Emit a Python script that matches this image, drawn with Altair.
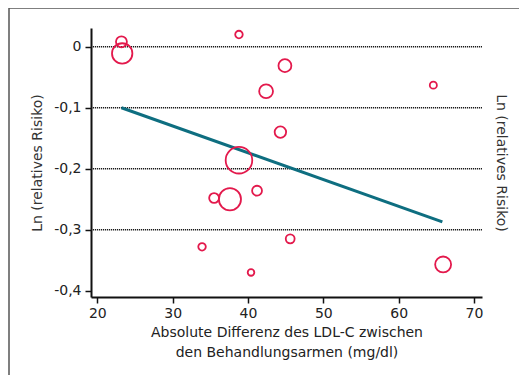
import altair as alt
import pandas as pd

# Study data: absolute LDL-C difference (mg/dl), ln(relative risk), study weight
ldl_diff = [23.2, 23.3, 38.8, 44.9, 42.4, 64.6, 44.3, 38.8, 41.2, 35.5, 37.6, 33.9, 40.4, 45.6, 65.9]
ln_rr = [0.008, -0.011, 0.020, -0.031, -0.073, -0.063, -0.140, -0.186, -0.236, -0.248, -0.250, -0.328, -0.370, -0.315, -0.357]
weight = [38, 132, 18, 53, 61, 16, 42, 225, 31, 31, 156, 18, 14, 25, 81]

# Meta-regression line endpoints
reg_x = [23.2, 65.8]
reg_y = [-0.100, -0.287]

x_ticks = [20, 30, 40, 50, 60, 70]
y_ticks = [0, -0.1, -0.2, -0.3, -0.4]
grid_vals = [0, -0.1, -0.2, -0.3]

x_title = ["Absolute Differenz des LDL-C zwischen", "den Behandlungsarmen (mg/dl)"]
y_title = "Ln (relatives Risiko)"

FONT = "DejaVu Sans"
FS = 14
W, H = 391, 269
x_dom = [19.16, 71.06]
y_dom = [-0.4103, 0.0307]

pts = pd.DataFrame({"x": ldl_diff, "y": ln_rr, "w": weight})
reg = pd.DataFrame({"x": reg_x, "y": reg_y})
grid = pd.DataFrame({"y": grid_vals})

xscale = alt.Scale(domain=x_dom, nice=False, zero=False)
yscale = alt.Scale(domain=y_dom, nice=False, zero=False)

x_axis = alt.Axis(
    values=x_ticks, grid=False, domainColor="#111111", domainWidth=2,
    tickColor="#111111", tickWidth=1.5, tickSize=6,
    labelFontSize=FS, labelFont=FONT, labelColor="#222222", labelPadding=3,
    title=x_title, titleFontSize=FS, titleFontWeight="normal", titleFont=FONT,
    titleColor="#222222", titlePadding=5, titleLineHeight=20,
)

frame = alt.Chart(pd.DataFrame({"a": [0]})).mark_rect(
    fill=None, stroke="#555555", strokeWidth=1.5
).encode(
    x=alt.value(-82), y=alt.value(-20), x2=alt.value(W + 60), y2=alt.value(H + 120)
)

grid_layer = alt.Chart(grid).mark_rule(
    color="#1a1a1a", strokeWidth=1.5, strokeDash=[1.2, 0.8]
).encode(
    y=alt.Y("y:Q", scale=yscale, axis=alt.Axis(
        orient="right", labels=False, ticks=False, domain=False, grid=False,
        title=y_title, titleFontSize=FS, titleFontWeight="normal",
        titleFont=FONT, titleColor="#333333", titlePadding=11,
    ))
)

line_layer = alt.Chart(reg).mark_line(color="#0e6e80", strokeWidth=3).encode(
    x=alt.X("x:Q", scale=xscale, axis=x_axis),
    y=alt.Y("y:Q", scale=yscale, axis=None),
)

point_layer = alt.Chart(pts).mark_point(
    shape="circle", filled=False, color="#e3194c", strokeWidth=1.8, opacity=1
).encode(
    x=alt.X("x:Q", scale=xscale, axis=x_axis),
    y=alt.Y("y:Q", scale=yscale, axis=alt.Axis(
        values=y_ticks, grid=False, domainColor="#111111", domainWidth=2,
        tickColor="#111111", tickWidth=1.5, tickSize=6,
        labelFontSize=FS, labelFont=FONT, labelColor="#222222", labelPadding=4,
        labelExpr="datum.value == 0 ? '0' : replace(toString(round(datum.value*10)/10), '.', ',')",
        title=y_title, titleFontSize=FS, titleFontWeight="normal",
        titleFont=FONT, titleColor="#333333", titlePadding=9,
    )),
    size=alt.Size("w:Q", scale=alt.Scale(domain=[0, 225], range=[0, 707], zero=True), legend=None),
)

chart = alt.layer(frame, grid_layer, line_layer, point_layer).resolve_scale(
    y="independent"
).properties(
    width=W, height=H, autosize="none",
    padding={"left": 83, "top": 20, "right": 37, "bottom": 78},
).configure_view(stroke=None)

chart.save("out.html", embed_options={"renderer": "svg", "actions": False})
